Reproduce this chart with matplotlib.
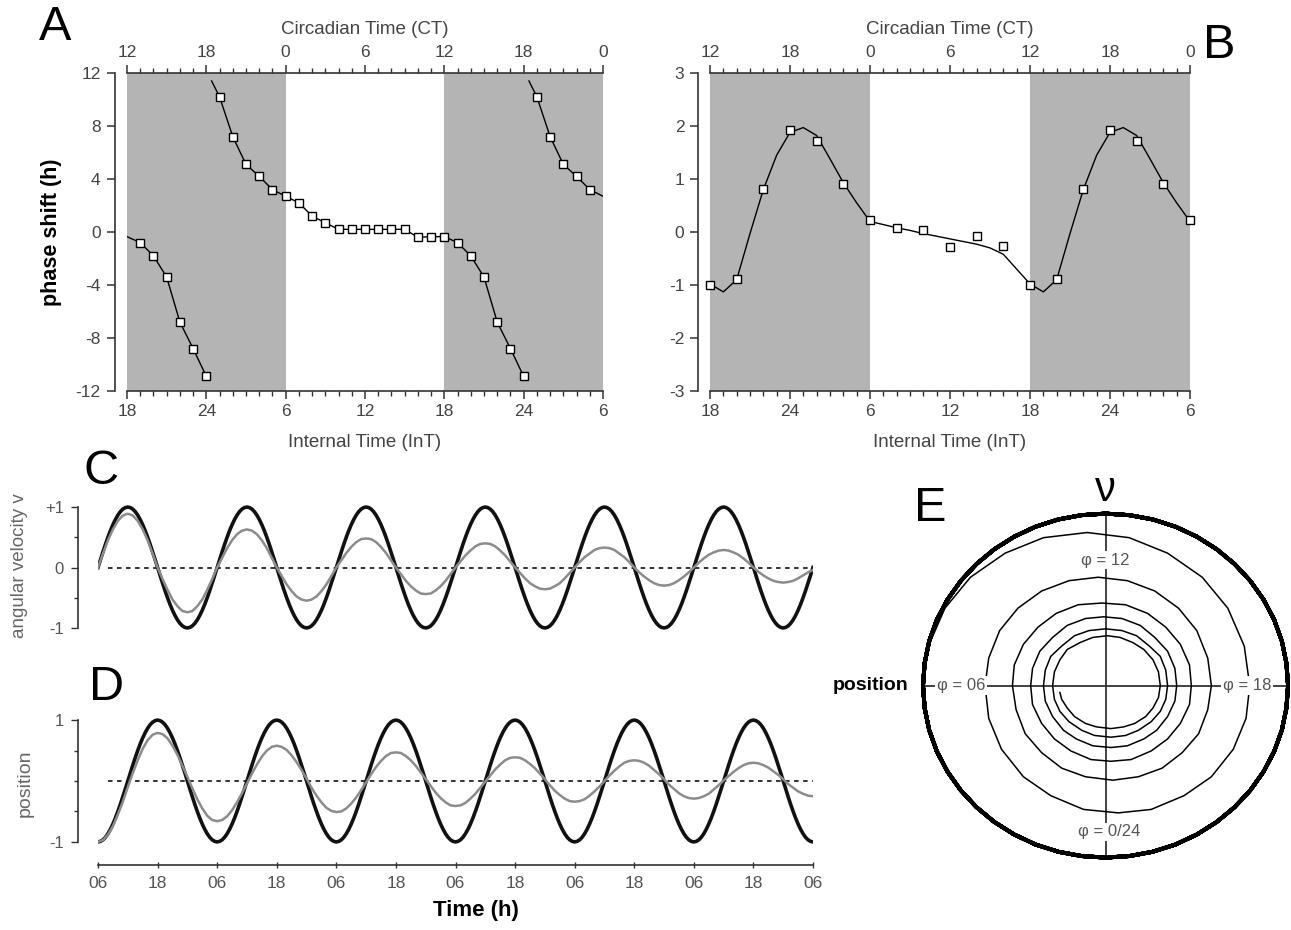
import numpy as np
import matplotlib.pyplot as plt
from matplotlib.ticker import MultipleLocator, FixedLocator

plt.rcParams['font.family'] = ['Liberation Sans', 'DejaVu Sans']

W, H = 1291, 930


def fx(px):
    return px / W


def fy(py):
    return 1 - py / H


# ---- panel A : phase response curve, hours of internal time (one 24 h cycle)
a_hours = list(range(25, 49))
a_shift = [10.2, 7.2, 5.1, 4.2, 3.2, 2.7, 2.2, 1.2, 0.7, 0.2, 0.2, 0.2,
           0.2, 0.2, 0.2, -0.4, -0.35, -0.35, -0.8, -1.8, -3.4, -6.8, -8.8, -10.9]
a_line_start = (24.4, 11.4)   # where the drawn curve enters the frame

# ---- panel B : measured points every 2 h and fitted curve every 1 h
b_hours = list(range(18, 41, 2))
b_shift = [-1.0, -0.88, 0.82, 1.92, 1.71, 0.91, 0.22, 0.08, 0.03, -0.28, -0.07, -0.26]
b_fit_hours = list(range(18, 42))
b_fit = [-0.98, -1.13, -0.9, -0.03, 0.8, 1.45, 1.88, 1.97, 1.82, 1.38, 0.93, 0.55,
         0.2, 0.14, 0.08, 0.03, -0.03, -0.08, -0.13, -0.18, -0.23, -0.3, -0.42, -0.7]

int_ticks = [18, 24, 30, 36, 42, 48, 54]
int_labels = ['18', '24', '6', '12', '18', '24', '6']
ct_labels = ['12', '18', '0', '6', '12', '18', '0']
dark_spans = [(18, 30), (42, 54)]
double_plot = [-24, 0, 24]

# ---- panels C/D : undamped oscillator, one 24 h cycle read every 0.5 h
ref_cycle_v = [0, .131, .259, .383, .5, .609, .707, .793, .866, .924, .966, .991,
               1, .991, .966, .924, .866, .793, .707, .609, .5, .383, .259, .131,
               0, -.131, -.259, -.383, -.5, -.609, -.707, -.793, -.866, -.924, -.966, -.991,
               -1, -.991, -.966, -.924, -.866, -.793, -.707, -.609, -.5, -.383, -.259, -.131]
ref_cycle_pos = [-1, -.991, -.966, -.924, -.866, -.793, -.707, -.609, -.5, -.383, -.259, -.131,
                 0, .131, .259, .383, .5, .609, .707, .793, .866, .924, .966, .991,
                 1, .991, .966, .924, .866, .793, .707, .609, .5, .383, .259, .131,
                 0, -.131, -.259, -.383, -.5, -.609, -.707, -.793, -.866, -.924, -.966, -.991]
n_days = 6

# ---- damped oscillator, read every 1 h over 6 days
damp_t = list(range(0, 145))
damp_v = [0, .23, .45, .63, .77, .86, .89, .86, .77, .63, .45, .23,
          0, -.19, -.37, -.53, -.64, -.72, -.74, -.72, -.64, -.53, -.37, -.19,
          0, .16, .32, .45, .55, .61, .63, .61, .55, .45, .32, .16,
          0, -.14, -.28, -.39, -.48, -.53, -.55, -.53, -.48, -.39, -.28, -.14,
          0, .12, .24, .34, .42, .47, .48, .47, .42, .34, .24, .12,
          0, -.11, -.22, -.31, -.38, -.43, -.44, -.43, -.38, -.31, -.22, -.11,
          0, .10, .20, .28, .35, .39, .40, .39, .35, .28, .20, .10,
          0, -.09, -.18, -.26, -.31, -.35, -.36, -.35, -.31, -.26, -.18, -.09,
          0, .09, .17, .23, .29, .32, .33, .32, .29, .23, .17, .09,
          0, -.08, -.15, -.21, -.26, -.29, -.30, -.29, -.26, -.21, -.15, -.08,
          0, .08, .15, .21, .25, .28, .29, .28, .25, .21, .15, .08,
          0, -.07, -.13, -.18, -.22, -.24, -.25, -.24, -.22, -.18, -.13, -.08,
          -.04]
damp_pos = [-1.0, -.97, -.88, -.74, -.55, -.34, -.10, .13, .34, .53, .67, .76,
            .79, .77, .70, .58, .43, .25, .07, -.12, -.30, -.45, -.57, -.64,
            -.66, -.64, -.58, -.48, -.35, -.20, -.04, .12, .27, .40, .50, .56,
            .58, .56, .51, .42, .31, .18, .04, -.11, -.24, -.35, -.44, -.49,
            -.51, -.50, -.45, -.37, -.27, -.15, -.02, .11, .23, .33, .41, .46,
            .47, .46, .41, .34, .25, .14, .03, -.08, -.19, -.28, -.35, -.40,
            -.41, -.40, -.36, -.29, -.21, -.11, -.01, .09, .19, .27, .34, .38,
            .39, .38, .34, .28, .21, .12, .03, -.07, -.16, -.23, -.29, -.33,
            -.34, -.33, -.30, -.24, -.17, -.09, .00, .09, .17, .24, .30, .33,
            .34, .33, .30, .25, .18, .11, .03, -.06, -.13, -.20, -.25, -.28,
            -.29, -.28, -.25, -.21, -.14, -.07, .01, .08, .15, .21, .26, .29,
            .30, .29, .26, .22, .16, .10, .03, -.05, -.11, -.17, -.21, -.24,
            -.25]
time_ticks = list(range(0, 145, 12))
time_labels = ['06', '18'] * 6 + ['06']

ref_t = np.arange(48 * n_days + 1) * 0.5
ref_v = np.array(ref_cycle_v * n_days + ref_cycle_v[:1])
ref_pos = np.array(ref_cycle_pos * n_days + ref_cycle_pos[:1])

TICK = '#444444'
SPINE = '#333333'
SHADE = '#b4b4b4'

fig = plt.figure(figsize=(W / 100, H / 100), dpi=100)


def prc_axes(left_px, right_px, ylim, yticks, out):
    ax = fig.add_axes([fx(left_px), fy(391), fx(right_px - left_px), (391 - 73) / H])
    ax.set_xlim(18, 54)
    ax.set_ylim(*ylim)
    for s in ('top', 'right'):
        ax.spines[s].set_visible(False)
    ax.spines['left'].set_position(('outward', out))
    for s in ('left', 'bottom'):
        ax.spines[s].set_linewidth(1.2)
        ax.spines[s].set_color(SPINE)
    ax.set_xticks(int_ticks, int_labels)
    ax.xaxis.set_minor_locator(MultipleLocator(1))
    ax.set_yticks(yticks, [str(v) for v in yticks])
    ax.tick_params(axis='x', which='major', length=6, width=1.1, pad=3,
                   labelsize=12.5, labelcolor=TICK, color=SPINE)
    ax.tick_params(axis='x', which='minor', length=3.5, width=1.0, color=SPINE)
    ax.tick_params(axis='y', length=6, width=1.1, pad=4,
                   labelsize=12.5, labelcolor=TICK, color=SPINE)
    sec = ax.secondary_xaxis('top')
    sec.set_xticks(int_ticks, ct_labels)
    sec.xaxis.set_minor_locator(MultipleLocator(1))
    sec.spines['top'].set_linewidth(1.2)
    sec.spines['top'].set_color(SPINE)
    sec.tick_params(axis='x', which='major', length=6, width=1.1, pad=3,
                    labelsize=12.5, labelcolor=TICK, color=SPINE)
    sec.tick_params(axis='x', which='minor', length=3.5, width=1.0, color=SPINE)
    for a, b in dark_spans:
        ax.axvspan(a, b, color=SHADE, lw=0, zorder=0)
    ax.set_xlabel('Internal Time (InT)', fontsize=13.5, color=TICK, labelpad=11)
    sec.set_xlabel('Circadian Time (CT)', fontsize=13.5, color=TICK, labelpad=8)
    return ax


mk = dict(marker='s', ms=5.5, mfc='white', mec='black', mew=1.0, ls='none', zorder=4)

# ---------------- A
axA = prc_axes(127, 603, (-12, 12), [-12, -8, -4, 0, 4, 8, 12], 9)
line_x = np.array([a_line_start[0]] + a_hours)
line_y = np.array([a_line_start[1]] + a_shift)
for off in double_plot:
    axA.plot(line_x + off, line_y, color='black', lw=1.0, zorder=3)
    hx = np.array(a_hours) + off
    keep = (hx > 18) & (hx < 54)
    axA.plot(hx[keep], np.array(a_shift)[keep], **mk)
axA.set_ylabel('phase shift (h)', fontsize=15.5, fontweight='bold', labelpad=10)

# ---------------- B
axB = prc_axes(710, 1190, (-3, 3), [-3, -2, -1, 0, 1, 2, 3], 8.5)
fit_x = np.concatenate([np.array(b_fit_hours) + off for off in (0, 24)])
fit_y = np.concatenate([b_fit, b_fit])
axB.plot(fit_x, fit_y, color='black', lw=1.0, zorder=3)
for off in (0, 24):
    hx = np.array(b_hours) + off
    keep = hx <= 54
    axB.plot(hx[keep], np.array(b_shift)[keep], clip_on=False, **mk)


# ---------------- C and D
def osc_axes(top_px, bot_px):
    ax = fig.add_axes([fx(98), fy(bot_px), fx(813 - 98), (bot_px - top_px) / H])
    ax.set_xlim(0, 144)
    ax.set_ylim(-1.1, 1.1)
    for s in ('top', 'right', 'bottom'):
        ax.spines[s].set_visible(False)
    ax.spines['left'].set_position(('outward', 14.5))
    ax.spines['left'].set_bounds(-1, 1)
    ax.spines['left'].set_linewidth(1.2)
    ax.spines['left'].set_color(SPINE)
    ax.tick_params(axis='y', which='both', length=5, width=1.0, pad=5,
                   labelsize=12, labelcolor='#555555', color=SPINE)
    ax.tick_params(axis='y', which='minor', length=3)
    ax.axhline(0, xmin=2 / 144, xmax=1, color='#222222', lw=1.3, ls=(0, (2.5, 2.5)), zorder=1)
    return ax


axC = osc_axes(501, 634)
axC.plot(ref_t, ref_v, color='#111111', lw=2.6, zorder=2)
axC.plot(damp_t, damp_v, color='#8c8c8c', lw=1.8, zorder=3)
axC.set_yticks([-1, 0, 1], ['-1', '0', '+1'])
axC.yaxis.set_minor_locator(FixedLocator([-0.5, 0.5]))
axC.set_xticks([])
fig.text(fx(20), fy(566), 'angular velocity v', rotation=90, ha='center', va='center',
         fontsize=13.5, color='#666666')

axD = osc_axes(714, 848)
axD.plot(ref_t, ref_pos, color='#111111', lw=2.6, zorder=2)
axD.plot(damp_t, damp_pos, color='#8c8c8c', lw=1.8, zorder=3)
axD.set_yticks([-1, 1], ['-1', '1'])
axD.yaxis.set_minor_locator(FixedLocator([-0.5, 0, 0.5]))
axD.spines['bottom'].set_visible(True)
axD.spines['bottom'].set_position(('outward', 12))
axD.spines['bottom'].set_bounds(0, 144)
axD.spines['bottom'].set_linewidth(1.2)
axD.spines['bottom'].set_color(SPINE)
axD.set_xticks(time_ticks, time_labels)
axD.tick_params(axis='x', direction='inout', length=5, width=1.0, pad=6,
                labelsize=12.5, labelcolor='#555555', color=SPINE)
fig.text(fx(25), fy(783), 'position', rotation=90, ha='center', va='center',
         fontsize=14, color='#666666')
fig.text(fx(476), fy(910), 'Time (h)', ha='center', va='center',
         fontsize=16, fontweight='bold')

# ---------------- E : phase plane
axE = fig.add_axes([fx(886.5), fy(892), fx(405.2), 412.8 / H])
axE.set_xlim(-1.2, 1.02)
axE.set_ylim(-1.2, 1.2)
axE.axis('off')
axE.hlines(0, ref_pos.min(), ref_pos.max(), color='#333333', lw=1.3, zorder=1)
axE.vlines(0, ref_v.min(), ref_v.max(), color='#333333', lw=1.3, zorder=1)
axE.plot(damp_pos, damp_v, color='black', lw=1.1, zorder=2, solid_joinstyle='round')
axE.plot(ref_pos, ref_v, color='black', lw=2.8, zorder=3, clip_on=False,
         solid_joinstyle='round')
lab = dict(fontsize=12, color='#555555', ha='center', va='center', zorder=4,
           bbox=dict(boxstyle='square,pad=0.1', fc='white', ec='none'))
axE.text(0.0, 0.73, 'φ = 12', **lab)
axE.text(0.02, -0.85, 'φ = 0/24', **lab)
axE.text(-0.79, 0.0, 'φ = 06', **lab)
axE.text(0.775, 0.0, 'φ = 18', **lab)
axE.text(0.0, 1.14, 'ν', fontsize=30, ha='center', va='center')
axE.text(-1.08, 0.0, 'position', fontsize=14, fontweight='bold', ha='right', va='center')

# panel letters
for letter, px, py in [('A', 55, 28), ('B', 1219, 45), ('C', 101, 471),
                       ('D', 107, 688), ('E', 930, 508)]:
    fig.text(fx(px), fy(py), letter, fontsize=35, ha='center', va='center')

fig.savefig('out.png', dpi=100)
